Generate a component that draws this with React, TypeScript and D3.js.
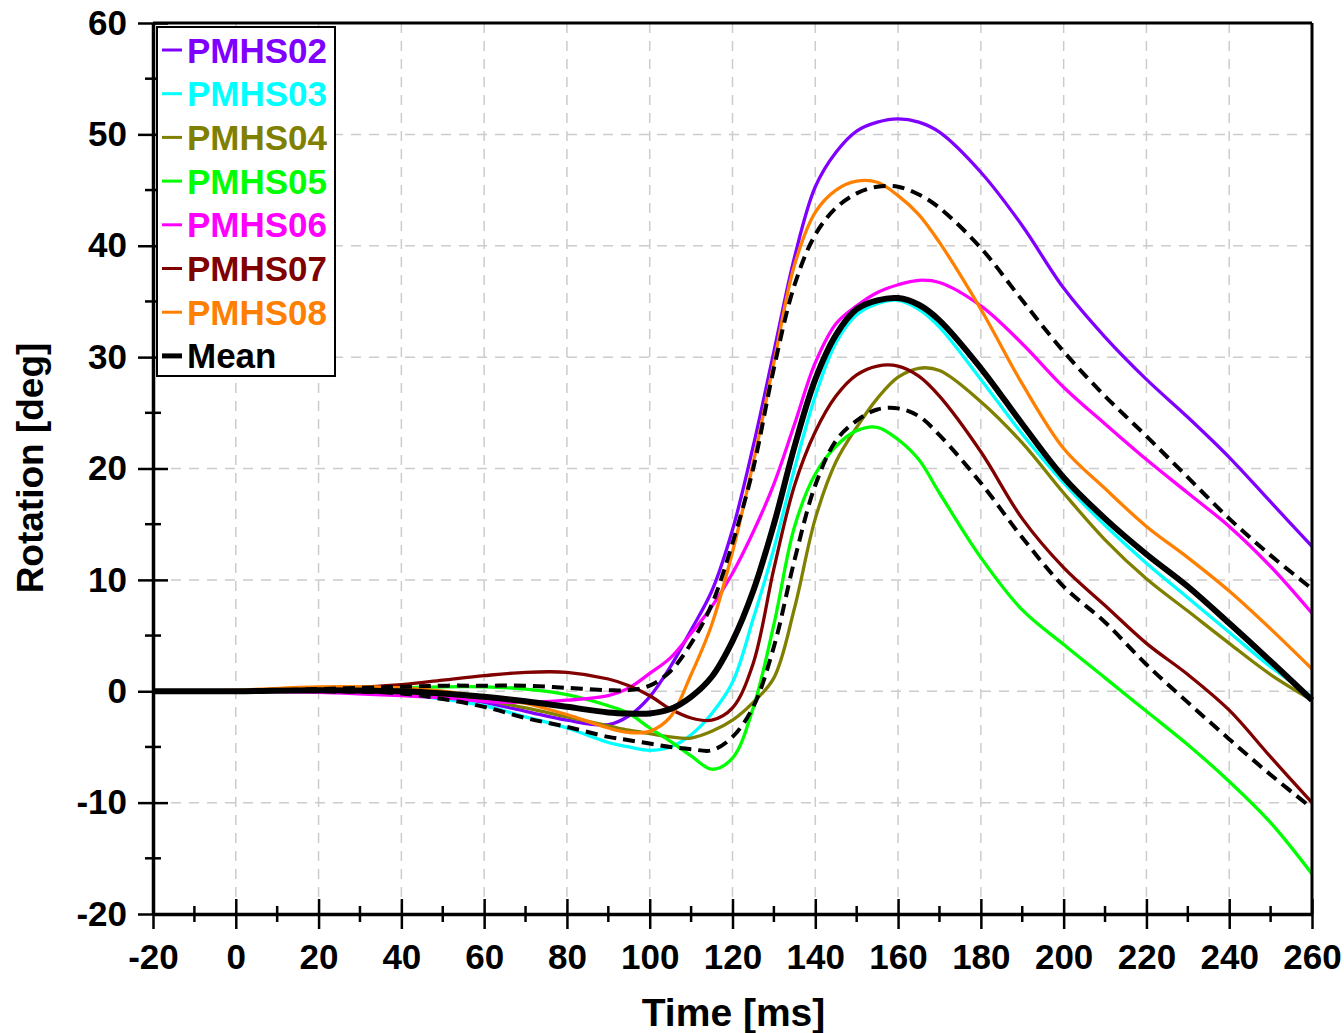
import React, {useRef, useEffect} from "react";
import * as d3 from "d3";

// time samples [ms]
const time = [-20, 0, 20, 40, 50, 60, 70, 80, 90, 95, 100, 105, 110, 115, 120, 125, 130, 135, 140, 145,
	150, 155, 160, 165, 170, 180, 190, 200, 210, 220, 230, 240, 250, 260];

const pmhs02 = [0, 0, 0.1, -0.2, -0.5, -1.0, -1.8, -2.6, -3.0, -2.2, -0.5, 2.2, 5.5, 9, 14.5, 22, 30.5, 39, 45.3, 48.4,
	50.3, 51.1, 51.4, 51.1, 50.2, 46.6, 41.8, 36.2, 31.8, 28, 24.6, 21, 17, 13];
const pmhs03 = [0, 0, 0, -0.3, -0.7, -1.3, -2.3, -3.3, -4.6, -5.0, -5.3, -5.0, -3.9, -2.0, 0.8, 6.5, 12.8, 20, 26.5, 31.3,
	33.8, 34.8, 35.1, 34.3, 32.7, 28.0, 23.1, 18.7, 14.9, 11.5, 8.4, 5.3, 2.2, -0.5];
const pmhs04 = [0, 0, 0, -0.2, -0.4, -0.8, -1.5, -2.3, -3.1, -3.5, -3.8, -4.1, -4.2, -3.6, -2.6, -1.0, 1.2, 7.5, 15.5, 20.6,
	23.7, 26.3, 28.2, 29.0, 28.8, 26.0, 22.3, 17.8, 13.6, 10.1, 7.2, 4.3, 1.5, -0.8];
const pmhs05 = [0, 0, 0.1, 0.3, 0.4, 0.4, 0.2, -0.3, -1.3, -2.0, -3.3, -4.5, -5.8, -7.0, -6.0, -1.5, 6.0, 14.8, 19.5, 22.0,
	23.4, 23.7, 22.6, 20.8, 17.8, 12.0, 7.3, 4.2, 1.2, -1.8, -4.8, -8.1, -11.8, -16.4];
const pmhs06 = [0, 0, -0.1, -0.4, -0.6, -0.9, -1.0, -0.8, -0.4, 0.3, 1.6, 3.0, 5.2, 7.6, 10.6, 14.3, 18.6, 24.0, 29.5, 33.0,
	34.6, 35.8, 36.5, 36.9, 36.7, 34.6, 31.2, 27.3, 24.0, 20.8, 17.8, 14.8, 11.2, 7.0];
const pmhs07 = [0, 0, 0.2, 0.6, 1.0, 1.4, 1.7, 1.7, 1.1, 0.5, -0.4, -1.6, -2.4, -2.6, -1.5, 2.5, 11.0, 18.5, 23.3, 26.5,
	28.4, 29.2, 29.2, 28.3, 26.5, 21.5, 15.5, 11.1, 7.7, 4.3, 1.5, -1.7, -5.9, -10.0];
const pmhs08 = [0, 0.1, 0.4, 0.3, 0.0, -0.5, -1.1, -2.1, -3.3, -3.7, -3.6, -2.3, 1.5, 6.0, 12.5, 20.5, 29.5, 38.3, 43.0, 45.0,
	45.8, 45.7, 44.5, 42.8, 40.3, 34.3, 27.6, 21.8, 18.2, 14.8, 12.0, 9.0, 5.6, 2.0];
const meanCurve = [0, 0, 0.1, 0, -0.2, -0.5, -0.9, -1.4, -1.9, -2.0, -2.0, -1.6, -0.5, 1.3, 4.5, 9.0, 15, 22, 28, 32,
	34.3, 35.1, 35.3, 34.7, 33.3, 29.0, 24.0, 19.2, 15.5, 12.3, 9.4, 6.1, 2.7, -0.8];
const upperSD = [0, 0, 0.2, 0.4, 0.5, 0.5, 0.5, 0.3, 0.1, 0.1, 0.5, 1.8, 4.3, 7.8, 13.3, 20.0, 29.0, 36.5, 41.0, 43.4,
	44.7, 45.3, 45.3, 44.6, 43.4, 39.8, 35.1, 30.5, 26.5, 22.9, 19.2, 15.5, 12.2, 9.2];
const lowerSD = [0, 0, 0, -0.2, -0.7, -1.4, -2.4, -3.2, -4.1, -4.4, -4.7, -5.0, -5.2, -5.3, -4.1, -1.4, 4.0, 11.8, 18.5, 22.5,
	24.3, 25.3, 25.4, 24.7, 23.0, 18.7, 13.8, 9.4, 6.2, 2.4, -1.0, -4.3, -7.5, -10.5];

const seriesNames = ["PMHS02", "PMHS03", "PMHS04", "PMHS05", "PMHS06", "PMHS07", "PMHS08", "Mean"];
const seriesColors = ["#8000ff", "#00ffff", "#808000", "#00ff00", "#ff00ff", "#800000", "#ff8000", "#000000"];
const seriesValues = [pmhs02, pmhs03, pmhs04, pmhs05, pmhs06, pmhs07, pmhs08, meanCurve];

const xTicks = [-20, 0, 20, 40, 60, 80, 100, 120, 140, 160, 180, 200, 220, 240, 260];
const yTicks = [-20, -10, 0, 10, 20, 30, 40, 50, 60];

const FONT = "'Liberation Sans', Arial, sans-serif";

export default function App() {

	const ref = useRef(null);

	let layout = {"width": 1344, "height": 1033,
				  "marginTop": 23, "marginRight": 32,
				  "marginBottom": 119, "marginLeft": 153};

	useEffect(() => {

		let svg = d3.select(ref.current);
		svg.selectAll("*").remove();

		let xScale = d3.scaleLinear()
						.domain([-20, 260])
						.range([layout.marginLeft, layout.width - layout.marginRight]);

		let yScale = d3.scaleLinear()
						.domain([-20, 60])
						.range([layout.height - layout.marginBottom, layout.marginTop]);

		let [x0, x1] = xScale.range();
		let [y0, y1] = yScale.range();

		// grid
		let grid = svg.append("g");
		grid.selectAll(".vgrid")
			.data(xTicks.slice(1, -1))
			.join("line")
			.attr("x1", d => xScale(d)).attr("x2", d => xScale(d))
			.attr("y1", y1).attr("y2", y0)
			.attr("stroke", "#cccccc").attr("stroke-width", 1.5)
			.attr("stroke-dasharray", "10,8");
		grid.selectAll(".hgrid")
			.data(yTicks.slice(1, -1))
			.join("line")
			.attr("x1", x0).attr("x2", x1)
			.attr("y1", d => yScale(d)).attr("y2", d => yScale(d))
			.attr("stroke", "#cccccc").attr("stroke-width", 1.5)
			.attr("stroke-dasharray", "10,8");

		let line = d3.line()
					.x((d, i) => xScale(time[i]))
					.y(d => yScale(d))
					.curve(d3.curveCatmullRom.alpha(0.5));

		// specimens
		for (let si = 0; si < 7; si++) {
			svg.append("path")
				.datum(seriesValues[si])
				.attr("d", line)
				.attr("fill", "none")
				.attr("stroke", seriesColors[si])
				.attr("stroke-width", 3.3);
		}

		// mean +/- SD
		for (let sd of [upperSD, lowerSD]) {
			svg.append("path")
				.datum(sd)
				.attr("d", line)
				.attr("fill", "none")
				.attr("stroke", "#000")
				.attr("stroke-width", 4)
				.attr("stroke-dasharray", "12,7");
		}

		svg.append("path")
			.datum(meanCurve)
			.attr("d", line)
			.attr("fill", "none")
			.attr("stroke", "#000")
			.attr("stroke-width", 6);

		// frame
		svg.append("line").attr("x1", x0).attr("x2", x1).attr("y1", y1).attr("y2", y1)
			.attr("stroke", "#000").attr("stroke-width", 3);
		svg.append("line").attr("x1", x1).attr("x2", x1).attr("y1", y1).attr("y2", y0)
			.attr("stroke", "#000").attr("stroke-width", 3);

		// x axis
		let xAxis = svg.append("g")
						.attr("transform", `translate(0, ${y0})`)
						.call(d3.axisBottom(xScale).tickValues(xTicks).tickFormat(d => String(d))
							.tickSize(15).tickSizeOuter(0).tickPadding(15));
		xAxis.selectAll(".tick line").attr("y1", -15).attr("stroke-width", 2.5);
		xAxis.select(".domain").attr("stroke-width", 3.5);
		xAxis.selectAll(".tick text")
			.attr("font-family", FONT).attr("font-weight", "bold").attr("font-size", 35).attr("fill", "#000");
		xAxis.selectAll(".minor")
			.data(d3.range(-10, 260, 20))
			.join("line")
			.attr("x1", d => xScale(d)).attr("x2", d => xScale(d))
			.attr("y1", -8).attr("y2", 8)
			.attr("stroke", "#000").attr("stroke-width", 2.5);

		// y axis
		let yAxis = svg.append("g")
						.attr("transform", `translate(${x0}, 0)`)
						.call(d3.axisLeft(yScale).tickValues(yTicks).tickFormat(d => String(d))
							.tickSize(15).tickSizeOuter(0).tickPadding(11));
		yAxis.selectAll(".tick line").attr("x1", 15).attr("stroke-width", 2.5);
		yAxis.select(".domain").attr("stroke-width", 3.5);
		yAxis.selectAll(".tick text")
			.attr("font-family", FONT).attr("font-weight", "bold").attr("font-size", 35).attr("fill", "#000");
		yAxis.selectAll(".minor")
			.data(d3.range(-15, 60, 10))
			.join("line")
			.attr("y1", d => yScale(d)).attr("y2", d => yScale(d))
			.attr("x1", -8).attr("x2", 8)
			.attr("stroke", "#000").attr("stroke-width", 2.5);

		// axis titles
		svg.append("text")
			.attr("x", (x0 + x1) / 2 + 1).attr("y", 1026)
			.attr("text-anchor", "middle")
			.attr("font-family", FONT).attr("font-weight", "bold").attr("font-size", 39)
			.text("Time [ms]");

		svg.append("text")
			.attr("transform", `translate(43, 468) rotate(-90)`)
			.attr("text-anchor", "middle")
			.attr("font-family", FONT).attr("font-weight", "bold").attr("font-size", 37)
			.text("Rotation [deg]");

		// legend
		let legend = svg.append("g");
		legend.append("rect")
			.attr("x", 157).attr("y", 27).attr("width", 178).attr("height", 349)
			.attr("fill", "#fff").attr("stroke", "#000").attr("stroke-width", 2);

		let items = legend.selectAll(".item")
						.data(seriesNames)
						.join("g")
						.attr("class", "item")
						.attr("transform", (d, i) => `translate(0, ${50 + i * 43.7})`);

		items.append("line")
			.attr("x1", 162).attr("x2", 182).attr("y1", 0).attr("y2", 0)
			.attr("stroke", (d, i) => seriesColors[i])
			.attr("stroke-width", (d, i) => i === 7 ? 5 : 3);

		items.append("text")
			.attr("x", 187).attr("y", 12.5)
			.attr("font-family", FONT).attr("font-weight", "bold").attr("font-size", 35)
			.attr("fill", (d, i) => seriesColors[i])
			.text(d => d);

	}, []);

	return (
		<svg ref={ref} width={layout.width} height={layout.height}
			 style={{position: "absolute", left: 0, top: 0, background: "#fff"}} />
	);
}
